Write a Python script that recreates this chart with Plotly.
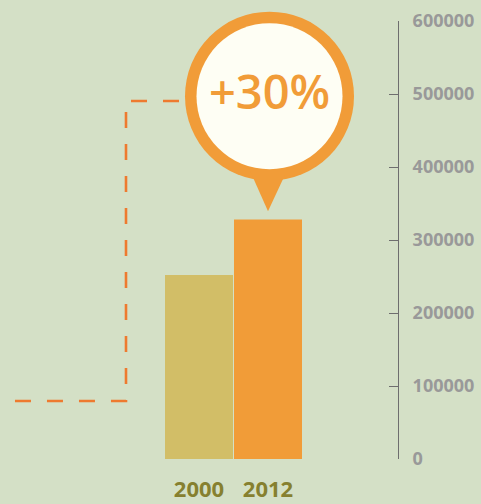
import plotly.graph_objects as go

# data
years = ["2000", "2012"]
values = [252000, 328000]
bar_colors = ["#d2be67", "#f19c38"]
y_ticks = [0, 100000, 200000, 300000, 400000, 500000, 600000]
y_tick_labels = [str(v) for v in y_ticks]
growth_label = "+30%"
balloon_value = 497000
connector_x = [-2.667, -1.058, -1.058, -0.246]
connector_y = [79500, 79500, 490400, 490400]

BG = "#d4e0c6"
ORANGE = "#f19c38"
X_RANGE = [-2.884, 2.884]
Y_RANGE = [0, 600000]

fig = go.Figure()
fig.add_trace(go.Scatter(
    x=connector_x, y=connector_y, mode="lines",
    line=dict(color="#ee7a2f", width=2.6, dash="16px,16px"),
    hoverinfo="skip", showlegend=False,
))
fig.add_trace(go.Bar(
    x=[0, 1], y=values, marker=dict(color=bar_colors, line=dict(width=0)),
    showlegend=False,
))

# balloon anchored (in paper space, so it is not clipped) on the 2012 category
ax = (1 - X_RANGE[0]) / (X_RANGE[1] - X_RANGE[0])
ay = (balloon_value - Y_RANGE[0]) / (Y_RANGE[1] - Y_RANGE[0])
common = dict(xref="paper", yref="paper", xsizemode="pixel", ysizemode="pixel",
              xanchor=ax, yanchor=ay, line=dict(width=0), layer="above")
fig.add_shape(type="circle", x0=-83, x1=86, y0=-84.5, y1=84.5, fillcolor=ORANGE, **common)
fig.add_shape(type="path", path="M -20,-70 L 21,-70 L 0,-115 Z", fillcolor=ORANGE, **common)
fig.add_shape(type="circle", x0=-71.5, x1=74.5, y0=-73, y1=73, fillcolor="#fefef4", **common)
fig.add_annotation(x=1, y=balloon_value, xref="x", yref="y", text=growth_label,
                   showarrow=False, xshift=1, yshift=5,
                   font=dict(family="Open Sans", size=47, color=ORANGE, weight=600))

fig.update_layout(
    width=481, height=504,
    margin=dict(l=0, r=83, t=21, b=45),
    paper_bgcolor=BG, plot_bgcolor=BG,
    bargap=1 / 69,
    hovermode=False,
    xaxis=dict(
        range=X_RANGE, tickvals=[0, 1], ticktext=years,
        showgrid=False, zeroline=False, showline=False, ticks="",
        tickfont=dict(family="Open Sans", size=22, color="#86802f", weight="bold"),
        ticklabelstandoff=15,
    ),
    yaxis=dict(
        side="right", range=Y_RANGE, tickvals=y_ticks, ticktext=y_tick_labels,
        showgrid=False, zeroline=False, showline=True, linecolor="#6e6e6e", linewidth=1,
        ticks="inside", ticklen=9, tickcolor="#6e6e6e", tickwidth=1,
        tickfont=dict(family="Open Sans", size=18, color="#999999", weight="bold"),
        ticklabelstandoff=10,
    ),
)

fig.write_html("out.html", config={"displayModeBar": False},
               post_script="document.body.style.margin='0';")
